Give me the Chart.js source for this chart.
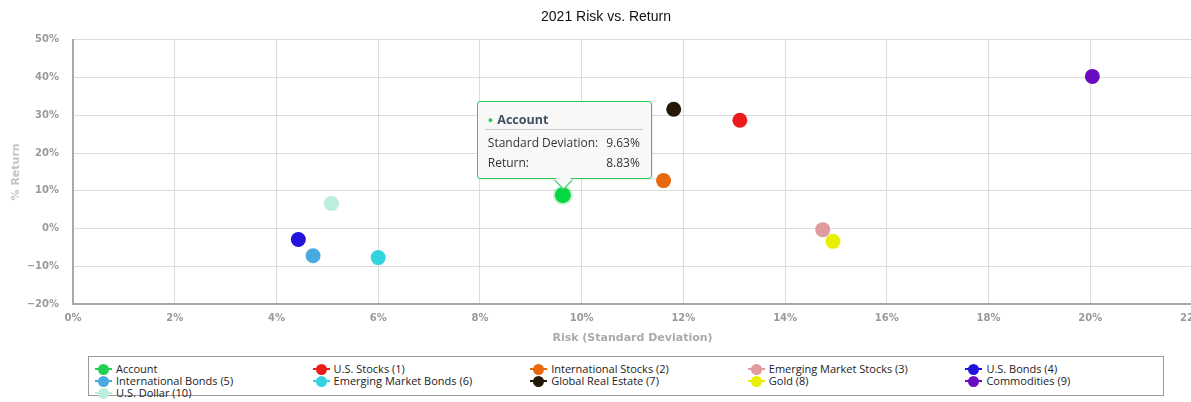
<!DOCTYPE html>
<html>
<head>
<meta charset="utf-8">
<script src="https://cdn.jsdelivr.net/npm/chart.js@4/dist/chart.umd.min.js"></script>
<style>
  body { margin: 0; background: #fff; overflow: hidden; width: 1191px; height: 402px; position: relative; }
  #wrap { position: absolute; left: 0; top: 0; width: 1212px; height: 350px; }
  #legend {
    position: absolute; left: 88px; top: 356px; width: 1076px; height: 40px;
    border: 1px solid #9a9a9a; box-sizing: border-box;
    display: grid; grid-template-columns: repeat(5, 217.6px);
    padding: 6px 0 0 6px; font: 11px "Open Sans", sans-serif; color: #222;
  }
  .item { height: 12px; line-height: 12px; display: flex; align-items: center; white-space: nowrap; }
  .mark { position: relative; width: 17px; height: 12px; margin-right: 4px; }
  .mark i { position: absolute; left: 0; top: 5px; width: 17px; height: 2px; }
  .mark b { position: absolute; left: 3px; top: 1px; width: 11px; height: 11px; border-radius: 50%; }
  #tip {
    position: absolute; width: 175px; height: 78px; box-sizing: border-box;
    border: 1px solid #2ecc55; border-radius: 3px; background: rgba(248,248,248,0.96);
    font: 12px "Open Sans", sans-serif; color: #333; box-shadow: 1px 1px 2px rgba(0,0,0,0.08);
  }
  #tip .head { position: absolute; left: 10px; top: 9px; font-weight: bold; color: #3e5064; font-size: 12.5px; }
  #tip .head span { color: #2ecc55; font-size: 9px; margin-right: 4px; vertical-align: 1px; }
  #tip .sep { position: absolute; left: 7px; right: 8px; top: 27px; border-top: 1px solid #ccc; }
  #tip .row { position: absolute; left: 10px; right: 11px; display: flex; justify-content: space-between; }
  #tip .caret { position: absolute; left: 79px; bottom: -9px; width: 12px; height: 12px; background: rgba(248,248,248,1);
    border-right: 1px solid #2ecc55; border-bottom: 1px solid #2ecc55; transform: rotate(45deg); }
</style>
</head>
<body>
<div id="wrap"><canvas id="chart"></canvas></div>
<div id="legend"></div>
<div id="tip"></div>
<script>
const names = ["Account", "U.S. Stocks (1)", "International Stocks (2)", "Emerging Market Stocks (3)", "U.S. Bonds (4)",
  "International Bonds (5)", "Emerging Market Bonds (6)", "Global Real Estate (7)", "Gold (8)", "Commodities (9)", "U.S. Dollar (10)"];
const risk = [9.63, 13.11, 11.61, 14.74, 4.43, 4.72, 6.0, 11.81, 14.94, 20.04, 5.08];
const returns = [8.83, 28.7, 12.7, -0.3, -2.9, -7.2, -7.7, 31.6, -3.4, 40.3, 6.6];
const colors = ["#22cf55", "#ec1c1c", "#e8680e", "#e09c9c", "#2212dc", "#4aa9e0", "#32d4e0", "#261808", "#e8f000", "#6a0cc0", "#bdeedb"];
const xTicks = [0, 2, 4, 6, 8, 10, 12, 14, 16, 18, 20, 22];
const yTicks = [-20, -10, 0, 10, 20, 30, 40, 50];

const pct = v => (v < 0 ? "\u2212" + Math.abs(v) : v) + "%";
const tickFont = { family: "DejaVu Sans", size: 10, weight: "bold" };

const chart = new Chart(document.getElementById("chart"), {
  type: "scatter",
  data: {
    datasets: names.map((n, i) => ({
      label: n,
      data: [{ x: risk[i], y: returns[i] }],
      backgroundColor: colors[i],
      borderColor: colors[i],
      pointRadius: 7.5,
      pointBorderWidth: 0,
      pointHoverRadius: 8,
      pointHoverBorderWidth: 4,
      hoverBorderColor: "rgba(34,207,85,0.25)"
    }))
  },
  options: {
    responsive: true,
    maintainAspectRatio: false,
    animation: false,
    events: [],
    layout: { padding: { left: 0, right: 0, top: 0, bottom: 0 } },
    plugins: {
      legend: { display: false },
      tooltip: { enabled: false },
      title: {
        display: true,
        text: "2021 Risk vs. Return",
        color: "#111",
        font: { family: "Liberation Sans", size: 14, weight: "normal" },
        padding: { top: 9, bottom: 14 }
      }
    },
    scales: {
      x: {
        type: "linear",
        min: 0, max: 22,
        afterBuildTicks: s => { s.ticks = xTicks.map(v => ({ value: v })); },
        afterFit: s => { s.height = 46; },
        ticks: { callback: v => pct(v), color: "#9a9a9a", font: tickFont, padding: 8, maxRotation: 0 },
        grid: { color: "#dcdcdc", drawTicks: false },
        border: { color: "#a8a8a8", width: 2 },
        title: { display: true, text: "Risk (Standard Deviation)", color: "#aaa", font: { family: "DejaVu Sans", size: 11, weight: "bold" }, padding: { top: 2, bottom: 5 } }
      },
      y: {
        min: -20, max: 50,
        afterBuildTicks: s => { s.ticks = yTicks.map(v => ({ value: v })); },
        afterFit: s => { s.width = 73; },
        ticks: { callback: v => pct(v), color: "#9a9a9a", font: tickFont, padding: 14 },
        grid: { color: "#dcdcdc", drawTicks: false },
        border: { color: "#a8a8a8", width: 2 },
        title: { display: true, text: "% Return", color: "#c4c4c4", font: { family: "DejaVu Sans", size: 11, weight: "bold" }, padding: { top: 10, bottom: 0 } }
      }
    }
  }
});

chart.setActiveElements([{ datasetIndex: 0, index: 0 }]);
chart.update();

// legend
const legend = document.getElementById("legend");
names.forEach((n, i) => {
  const d = document.createElement("div");
  d.className = "item";
  d.innerHTML = '<span class="mark"><i style="background:' + colors[i] + '"></i><b style="background:' + colors[i] + '"></b></span>' + n;
  legend.appendChild(d);
});

// tooltip for Account point
const pt = chart.getDatasetMeta(0).data[0];
const tip = document.getElementById("tip");
tip.innerHTML = '<div class="head"><span>\u25CF</span>' + names[0] + '</div><div class="sep"></div>' +
  '<div class="row" style="top:32px"><span>Standard Deviation:</span><span>' + risk[0].toFixed(2) + '%</span></div>' +
  '<div class="row" style="top:52px"><span>Return:</span><span>' + returns[0].toFixed(2) + '%</span></div>' +
  '<div class="caret"></div>';
tip.style.left = (pt.x - 86) + "px";
tip.style.top = (pt.y - 94) + "px";
</script>
</body>
</html>
